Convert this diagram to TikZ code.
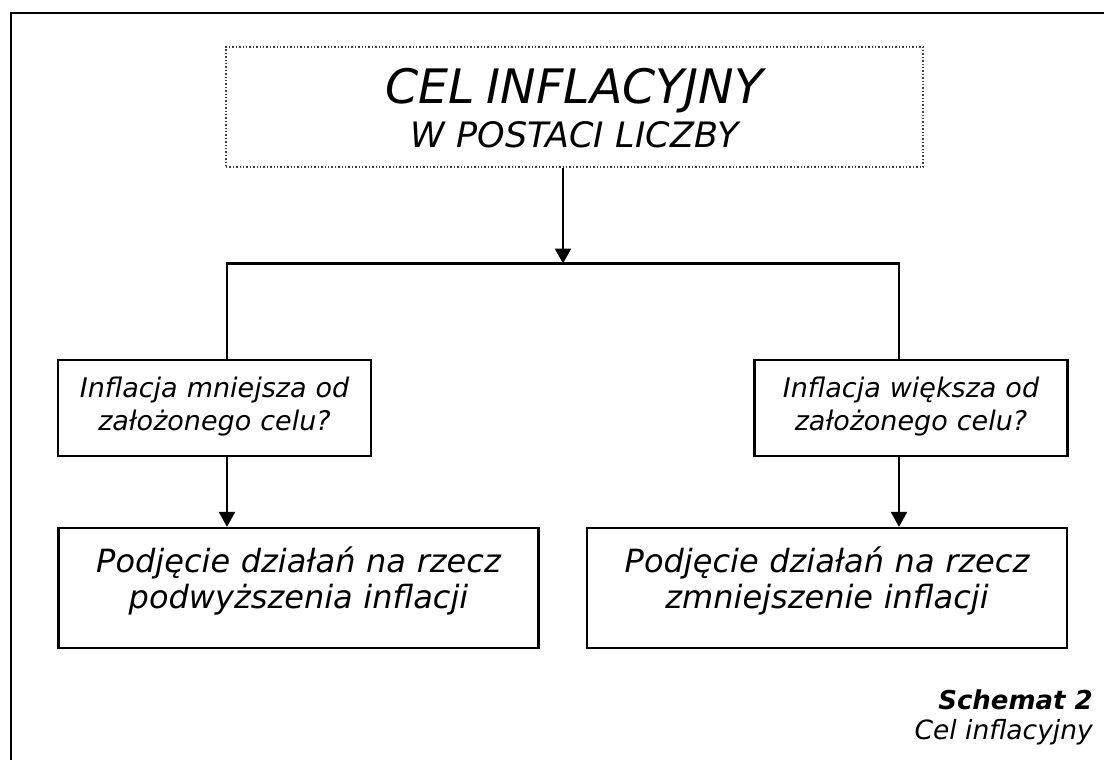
\documentclass[tikz,border=0pt]{standalone}
\usepackage{fontspec}
\setmainfont{DejaVu Sans}
\usetikzlibrary{arrows.meta}
\tikzset{
	box/.style={draw,line width=2.2pt,align=center,inner xsep=10pt,inner ysep=0pt},
	goalbox/.style={box,draw=black!75,line width=1.4pt,dash pattern=on 1.4pt off 2pt,text width=677pt,text height=56pt,text depth=64pt,font=\itshape\fontsize{35}{44}\selectfont},
	askbox/.style={box,text width=293pt,text height=37pt,text depth=59pt,font=\itshape\fontsize{27}{33}\selectfont},
	actbox/.style={box,text width=460pt,text height=44pt,text depth=76pt,font=\itshape\fontsize{32}{36}\selectfont},
	link/.style={line width=2.2pt},
	arr/.style={link,-{Triangle[width=16pt,length=15pt]}},
	caption/.style={anchor=base east,inner sep=0pt}
}
\begin{document}
\begin{tikzpicture}[x=1pt,y=-1pt]
	\useasboundingbox (0,0) rectangle (1104,760);
	\draw[line width=2.6pt] (11,760)--(11,13)--(1104,13);
	\node[goalbox] (goal) at (574.5,107) {{\fontsize{47.5}{44}\selectfont CEL INFLACYJNY}\\W POSTACI LICZBY};
	\node[askbox] (askL) at (214.5,408) {Inflacja mniejsza od\\założonego celu?};
	\node[askbox] (askR) at (911,408) {Inflacja większa od\\założonego celu?};
	\node[actbox] (actL) at (298.5,588) {Podjęcie działań na rzecz\\podwyższenia inflacji};
	\node[actbox] (actR) at (827,588) {Podjęcie działań na rzecz\\zmniejszenie inflacji};
	\coordinate (fork) at (563,263.5);
	\coordinate (forkL) at (227,263.5);
	\coordinate (forkR) at (899,263.5);
	\draw[arr] (goal.south -| fork)--(fork);
	\draw[link] (askL.north -| forkL)--(forkL)--(forkR)--(askR.north -| forkR);
	\draw[arr] (askL.south -| forkL)--(actL.north -| forkL);
	\draw[arr] (askR.south -| forkR)--(actR.north -| forkR);
	% podpis
	\node[caption,font=\bfseries\itshape\fontsize{26}{30}\selectfont] (capA) at (1093,709) {Schemat 2};
	\node[caption,font=\itshape\fontsize{26.5}{30}\selectfont] (capB) at (1093,739) {Cel inflacyjny};
\end{tikzpicture}
\end{document}
